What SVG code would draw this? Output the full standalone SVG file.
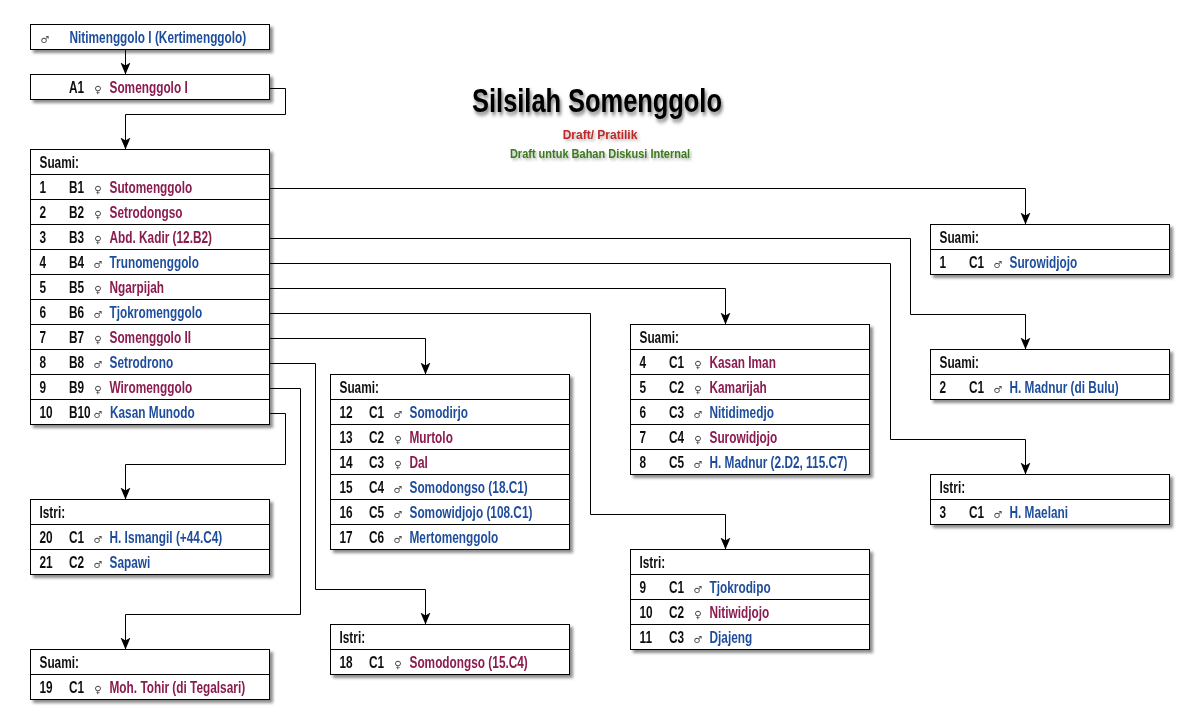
<svg xmlns="http://www.w3.org/2000/svg" width="1200" height="725" viewBox="0 0 1200 725">
<defs>
<style>
.box{fill:#fff;stroke:#000;stroke-width:1}
.sep{stroke:#000;stroke-width:1}
.t{font-family:"Liberation Sans",Arial,sans-serif;font-weight:bold;font-size:16px;fill:#111}
.m{fill:#1f4e9c}
.f{fill:#8b1a4f}
.s{font-family:"DejaVu Sans",sans-serif;font-size:10px;fill:#444;text-anchor:middle}
.c{fill:none;stroke:#000;stroke-width:1;marker-end:url(#arr)}
.node{filter:url(#sh)}
.title{font-family:"Liberation Sans",Arial,sans-serif;font-weight:bold;text-anchor:middle}
</style>
<filter id="sh" x="-5%" y="-5%" width="115%" height="130%">
<feDropShadow dx="3" dy="3" stdDeviation="1.5" flood-color="#000" flood-opacity="0.45"/>
</filter>
<filter id="tsh" x="-10%" y="-30%" width="125%" height="170%">
<feDropShadow dx="2" dy="3" stdDeviation="2" flood-color="#000" flood-opacity="0.55"/>
</filter>
<filter id="tsh2" x="-10%" y="-30%" width="125%" height="170%">
<feDropShadow dx="2" dy="2" stdDeviation="1.5" flood-color="#000" flood-opacity="0.3"/>
</filter>
<marker id="arr" markerUnits="userSpaceOnUse" markerWidth="14" markerHeight="12" refX="12" refY="5" orient="auto">
<path d="M0,0 L12,5 L0,10 L3,5 z" fill="#000"/>
</marker>
</defs>
<rect width="1200" height="725" fill="#fff"/>

<g id="title">
<text class="title" filter="url(#tsh)" transform="matrix(0.77 0 0 1 597 112)" font-size="33" fill="#000">Silsilah Somenggolo</text>
<text class="title" filter="url(#tsh2)" transform="matrix(0.96 0 0 1 600 139)" font-size="12.5" fill="#c0282a">Draft/ Pratilik</text>
<text class="title" filter="url(#tsh2)" transform="matrix(0.88 0 0 1 600 158)" font-size="12.5" fill="#3b7a1e">Draft untuk Bahan Diskusi Internal</text>
</g>

<g id="connectors">
<path class="c" d="M125.5,49.5 V74.5"/>
<path class="c" d="M269.5,88.5 H285.5 V114.5 H125.5 V149.5"/>
<path class="c" d="M269.5,188.5 H1025.5 V224.5"/>
<path class="c" d="M269.5,238.5 H910.5 V314.5 H1025.5 V349.5"/>
<path class="c" d="M269.5,263.5 H890.5 V439.5 H1025.5 V474.5"/>
<path class="c" d="M269.5,288.5 H725.5 V324.5"/>
<path class="c" d="M269.5,313.5 H590.5 V514.5 H725.5 V549.5"/>
<path class="c" d="M269.5,338.5 H425.5 V374.5"/>
<path class="c" d="M269.5,363.5 H315.5 V589.5 H425.5 V624.5"/>
<path class="c" d="M269.5,388.5 H300.5 V614.5 H125.5 V649.5"/>
<path class="c" d="M269.5,413.5 H285.5 V464.5 H125.5 V499.5"/>
</g>

<g id="n0" class="node">
<rect class="box" x="30.5" y="24.5" width="239" height="25"/>
<text class="s" x="45" y="42.5">♂</text>
<text class="t m" transform="matrix(0.74 0 0 1 69.5 42.5)">Nitimenggolo I (Kertimenggolo)</text>
</g>

<g id="a1" class="node">
<rect class="box" x="30.5" y="74.5" width="239" height="25"/>
<text class="t" transform="matrix(0.74 0 0 1 69 92.5)">A1</text>
<text class="s" x="98" y="92.5">♀</text>
<text class="t f" transform="matrix(0.74 0 0 1 109.5 92.5)">Somenggolo I</text>
</g>

<g id="b" class="node">
<rect class="box" x="30.5" y="149.5" width="239" height="275"/>
<path class="sep" d="M30.5,174.5H269.5M30.5,199.5H269.5M30.5,224.5H269.5M30.5,249.5H269.5M30.5,274.5H269.5M30.5,299.5H269.5M30.5,324.5H269.5M30.5,349.5H269.5M30.5,374.5H269.5M30.5,399.5H269.5"/>
<text class="t" transform="matrix(0.74 0 0 1 39.5 167.5)">Suami:</text>
<text class="t" transform="matrix(0.74 0 0 1 39.5 192.5)">1</text><text class="t" transform="matrix(0.74 0 0 1 69 192.5)">B1</text><text class="s" x="98" y="192.5">♀</text><text class="t f" transform="matrix(0.74 0 0 1 109.5 192.5)">Sutomenggolo</text>
<text class="t" transform="matrix(0.74 0 0 1 39.5 217.5)">2</text><text class="t" transform="matrix(0.74 0 0 1 69 217.5)">B2</text><text class="s" x="98" y="217.5">♀</text><text class="t f" transform="matrix(0.74 0 0 1 109.5 217.5)">Setrodongso</text>
<text class="t" transform="matrix(0.74 0 0 1 39.5 242.5)">3</text><text class="t" transform="matrix(0.74 0 0 1 69 242.5)">B3</text><text class="s" x="98" y="242.5">♀</text><text class="t f" transform="matrix(0.74 0 0 1 109.5 242.5)">Abd. Kadir (12.B2)</text>
<text class="t" transform="matrix(0.74 0 0 1 39.5 267.5)">4</text><text class="t" transform="matrix(0.74 0 0 1 69 267.5)">B4</text><text class="s" x="98" y="267.5">♂</text><text class="t m" transform="matrix(0.74 0 0 1 109.5 267.5)">Trunomenggolo</text>
<text class="t" transform="matrix(0.74 0 0 1 39.5 292.5)">5</text><text class="t" transform="matrix(0.74 0 0 1 69 292.5)">B5</text><text class="s" x="98" y="292.5">♀</text><text class="t f" transform="matrix(0.74 0 0 1 109.5 292.5)">Ngarpijah</text>
<text class="t" transform="matrix(0.74 0 0 1 39.5 317.5)">6</text><text class="t" transform="matrix(0.74 0 0 1 69 317.5)">B6</text><text class="s" x="98" y="317.5">♂</text><text class="t m" transform="matrix(0.74 0 0 1 109.5 317.5)">Tjokromenggolo</text>
<text class="t" transform="matrix(0.74 0 0 1 39.5 342.5)">7</text><text class="t" transform="matrix(0.74 0 0 1 69 342.5)">B7</text><text class="s" x="98" y="342.5">♀</text><text class="t f" transform="matrix(0.74 0 0 1 109.5 342.5)">Somenggolo II</text>
<text class="t" transform="matrix(0.74 0 0 1 39.5 367.5)">8</text><text class="t" transform="matrix(0.74 0 0 1 69 367.5)">B8</text><text class="s" x="98" y="367.5">♂</text><text class="t m" transform="matrix(0.74 0 0 1 109.5 367.5)">Setrodrono</text>
<text class="t" transform="matrix(0.74 0 0 1 39.5 392.5)">9</text><text class="t" transform="matrix(0.74 0 0 1 69 392.5)">B9</text><text class="s" x="98" y="392.5">♀</text><text class="t f" transform="matrix(0.74 0 0 1 109.5 392.5)">Wiromenggolo</text>
<text class="t" transform="matrix(0.74 0 0 1 39.5 417.5)">10</text><text class="t" transform="matrix(0.74 0 0 1 69 417.5)">B10</text><text class="s" x="98" y="417.5">♂</text><text class="t m" transform="matrix(0.74 0 0 1 110 417.5)">Kasan Munodo</text>
</g>

<g id="c1" class="node">
<rect class="box" x="930.5" y="224.5" width="239" height="50"/>
<path class="sep" d="M930.5,249.5H1169.5"/>
<text class="t" transform="matrix(0.74 0 0 1 939.5 242.5)">Suami:</text>
<text class="t" transform="matrix(0.74 0 0 1 939.5 267.5)">1</text><text class="t" transform="matrix(0.74 0 0 1 969 267.5)">C1</text><text class="s" x="998" y="267.5">♂</text><text class="t m" transform="matrix(0.74 0 0 1 1009.5 267.5)">Surowidjojo</text>
</g>

<g id="c3" class="node">
<rect class="box" x="930.5" y="349.5" width="239" height="50"/>
<path class="sep" d="M930.5,374.5H1169.5"/>
<text class="t" transform="matrix(0.74 0 0 1 939.5 367.5)">Suami:</text>
<text class="t" transform="matrix(0.74 0 0 1 939.5 392.5)">2</text><text class="t" transform="matrix(0.74 0 0 1 969 392.5)">C1</text><text class="s" x="998" y="392.5">♂</text><text class="t m" transform="matrix(0.74 0 0 1 1009.5 392.5)">H. Madnur (di Bulu)</text>
</g>

<g id="c4" class="node">
<rect class="box" x="930.5" y="474.5" width="239" height="50"/>
<path class="sep" d="M930.5,499.5H1169.5"/>
<text class="t" transform="matrix(0.74 0 0 1 939.5 492.5)">Istri:</text>
<text class="t" transform="matrix(0.74 0 0 1 939.5 517.5)">3</text><text class="t" transform="matrix(0.74 0 0 1 969 517.5)">C1</text><text class="s" x="998" y="517.5">♂</text><text class="t m" transform="matrix(0.74 0 0 1 1009.5 517.5)">H. Maelani</text>
</g>

<g id="c5" class="node">
<rect class="box" x="630.5" y="324.5" width="239" height="150"/>
<path class="sep" d="M630.5,349.5H869.5M630.5,374.5H869.5M630.5,399.5H869.5M630.5,424.5H869.5M630.5,449.5H869.5"/>
<text class="t" transform="matrix(0.74 0 0 1 639.5 342.5)">Suami:</text>
<text class="t" transform="matrix(0.74 0 0 1 639.5 367.5)">4</text><text class="t" transform="matrix(0.74 0 0 1 669 367.5)">C1</text><text class="s" x="698" y="367.5">♀</text><text class="t f" transform="matrix(0.74 0 0 1 709.5 367.5)">Kasan Iman</text>
<text class="t" transform="matrix(0.74 0 0 1 639.5 392.5)">5</text><text class="t" transform="matrix(0.74 0 0 1 669 392.5)">C2</text><text class="s" x="698" y="392.5">♀</text><text class="t f" transform="matrix(0.74 0 0 1 709.5 392.5)">Kamarijah</text>
<text class="t" transform="matrix(0.74 0 0 1 639.5 417.5)">6</text><text class="t" transform="matrix(0.74 0 0 1 669 417.5)">C3</text><text class="s" x="698" y="417.5">♂</text><text class="t m" transform="matrix(0.74 0 0 1 709.5 417.5)">Nitidimedjo</text>
<text class="t" transform="matrix(0.74 0 0 1 639.5 442.5)">7</text><text class="t" transform="matrix(0.74 0 0 1 669 442.5)">C4</text><text class="s" x="698" y="442.5">♀</text><text class="t f" transform="matrix(0.74 0 0 1 709.5 442.5)">Surowidjojo</text>
<text class="t" transform="matrix(0.74 0 0 1 639.5 467.5)">8</text><text class="t" transform="matrix(0.74 0 0 1 669 467.5)">C5</text><text class="s" x="698" y="467.5">♂</text><text class="t m" transform="matrix(0.74 0 0 1 709.5 467.5)">H. Madnur (2.D2, 115.C7)</text>
</g>

<g id="c6" class="node">
<rect class="box" x="630.5" y="549.5" width="239" height="100"/>
<path class="sep" d="M630.5,574.5H869.5M630.5,599.5H869.5M630.5,624.5H869.5"/>
<text class="t" transform="matrix(0.74 0 0 1 639.5 567.5)">Istri:</text>
<text class="t" transform="matrix(0.74 0 0 1 639.5 592.5)">9</text><text class="t" transform="matrix(0.74 0 0 1 669 592.5)">C1</text><text class="s" x="698" y="592.5">♂</text><text class="t m" transform="matrix(0.74 0 0 1 709.5 592.5)">Tjokrodipo</text>
<text class="t" transform="matrix(0.74 0 0 1 639.5 617.5)">10</text><text class="t" transform="matrix(0.74 0 0 1 669 617.5)">C2</text><text class="s" x="698" y="617.5">♀</text><text class="t f" transform="matrix(0.74 0 0 1 709.5 617.5)">Nitiwidjojo</text>
<text class="t" transform="matrix(0.74 0 0 1 639.5 642.5)">11</text><text class="t" transform="matrix(0.74 0 0 1 669 642.5)">C3</text><text class="s" x="698" y="642.5">♂</text><text class="t m" transform="matrix(0.74 0 0 1 709.5 642.5)">Djajeng</text>
</g>

<g id="c7" class="node">
<rect class="box" x="330.5" y="374.5" width="239" height="175"/>
<path class="sep" d="M330.5,399.5H569.5M330.5,424.5H569.5M330.5,449.5H569.5M330.5,474.5H569.5M330.5,499.5H569.5M330.5,524.5H569.5"/>
<text class="t" transform="matrix(0.74 0 0 1 339.5 392.5)">Suami:</text>
<text class="t" transform="matrix(0.74 0 0 1 339.5 417.5)">12</text><text class="t" transform="matrix(0.74 0 0 1 369 417.5)">C1</text><text class="s" x="398" y="417.5">♂</text><text class="t m" transform="matrix(0.74 0 0 1 409.5 417.5)">Somodirjo</text>
<text class="t" transform="matrix(0.74 0 0 1 339.5 442.5)">13</text><text class="t" transform="matrix(0.74 0 0 1 369 442.5)">C2</text><text class="s" x="398" y="442.5">♀</text><text class="t f" transform="matrix(0.74 0 0 1 409.5 442.5)">Murtolo</text>
<text class="t" transform="matrix(0.74 0 0 1 339.5 467.5)">14</text><text class="t" transform="matrix(0.74 0 0 1 369 467.5)">C3</text><text class="s" x="398" y="467.5">♀</text><text class="t f" transform="matrix(0.74 0 0 1 409.5 467.5)">Dal</text>
<text class="t" transform="matrix(0.74 0 0 1 339.5 492.5)">15</text><text class="t" transform="matrix(0.74 0 0 1 369 492.5)">C4</text><text class="s" x="398" y="492.5">♂</text><text class="t m" transform="matrix(0.74 0 0 1 409.5 492.5)">Somodongso (18.C1)</text>
<text class="t" transform="matrix(0.74 0 0 1 339.5 517.5)">16</text><text class="t" transform="matrix(0.74 0 0 1 369 517.5)">C5</text><text class="s" x="398" y="517.5">♂</text><text class="t m" transform="matrix(0.74 0 0 1 409.5 517.5)">Somowidjojo (108.C1)</text>
<text class="t" transform="matrix(0.74 0 0 1 339.5 542.5)">17</text><text class="t" transform="matrix(0.74 0 0 1 369 542.5)">C6</text><text class="s" x="398" y="542.5">♂</text><text class="t m" transform="matrix(0.74 0 0 1 409.5 542.5)">Mertomenggolo</text>
</g>

<g id="c8" class="node">
<rect class="box" x="330.5" y="624.5" width="239" height="50"/>
<path class="sep" d="M330.5,649.5H569.5"/>
<text class="t" transform="matrix(0.74 0 0 1 339.5 642.5)">Istri:</text>
<text class="t" transform="matrix(0.74 0 0 1 339.5 667.5)">18</text><text class="t" transform="matrix(0.74 0 0 1 369 667.5)">C1</text><text class="s" x="398" y="667.5">♀</text><text class="t f" transform="matrix(0.74 0 0 1 409.5 667.5)">Somodongso (15.C4)</text>
</g>

<g id="c9" class="node">
<rect class="box" x="30.5" y="649.5" width="239" height="50"/>
<path class="sep" d="M30.5,674.5H269.5"/>
<text class="t" transform="matrix(0.74 0 0 1 39.5 667.5)">Suami:</text>
<text class="t" transform="matrix(0.74 0 0 1 39.5 692.5)">19</text><text class="t" transform="matrix(0.74 0 0 1 69 692.5)">C1</text><text class="s" x="98" y="692.5">♀</text><text class="t f" transform="matrix(0.74 0 0 1 109.5 692.5)">Moh. Tohir (di Tegalsari)</text>
</g>

<g id="c10" class="node">
<rect class="box" x="30.5" y="499.5" width="239" height="75"/>
<path class="sep" d="M30.5,524.5H269.5M30.5,549.5H269.5"/>
<text class="t" transform="matrix(0.74 0 0 1 39.5 517.5)">Istri:</text>
<text class="t" transform="matrix(0.74 0 0 1 39.5 542.5)">20</text><text class="t" transform="matrix(0.74 0 0 1 69 542.5)">C1</text><text class="s" x="98" y="542.5">♂</text><text class="t m" transform="matrix(0.74 0 0 1 109.5 542.5)">H. Ismangil (+44.C4)</text>
<text class="t" transform="matrix(0.74 0 0 1 39.5 567.5)">21</text><text class="t" transform="matrix(0.74 0 0 1 69 567.5)">C2</text><text class="s" x="98" y="567.5">♂</text><text class="t m" transform="matrix(0.74 0 0 1 109.5 567.5)">Sapawi</text>
</g>
</svg>
